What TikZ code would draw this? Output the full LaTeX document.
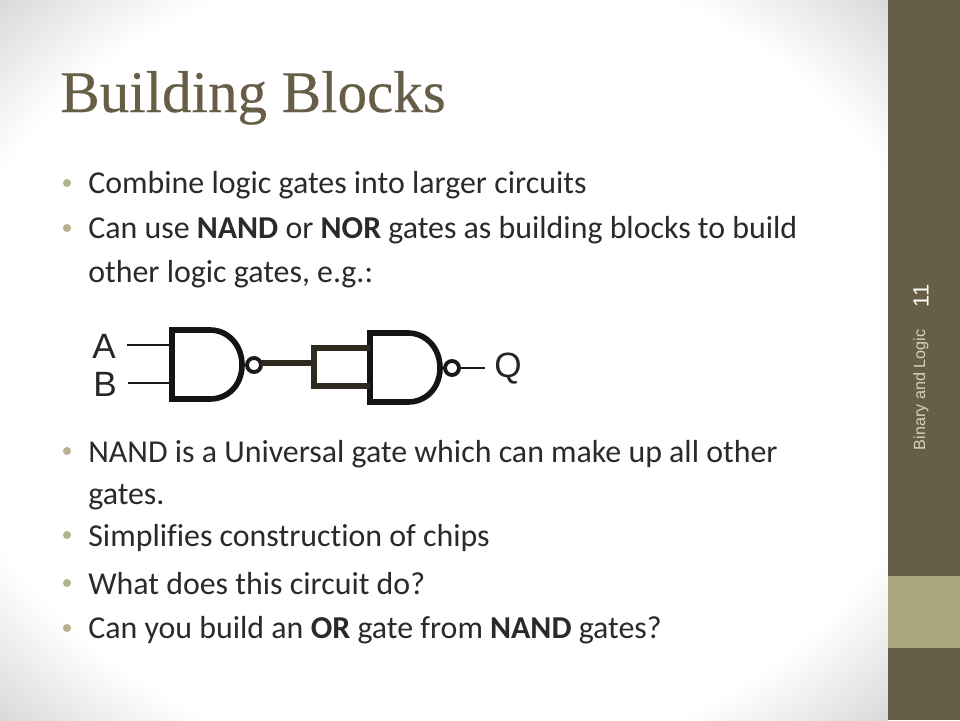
\documentclass[tikz,border=0pt]{standalone}
\usepackage{fontspec}
\setmainfont[Ligatures=CommonOff]{Carlito}
\newfontfamily\labelfont{Liberation Sans}
\newfontfamily\titlefont[FakeBold=0.3]{Liberation Serif}
\definecolor{bandbrown}{HTML}{675E47}
\definecolor{bandolive}{HTML}{A9A57C}
\definecolor{bodytext}{HTML}{2A2A2A}
\definecolor{wiredark}{HTML}{2E2A1F}
\pgfdeclareradialshading{slideglow}{\pgfpoint{0bp}{0bp}}{color(0bp)=(white); color(28bp)=(white); color(35.4bp)=(black!15); color(50bp)=(black!15)}

\begin{document}
\begin{tikzpicture}[x=0.02cm,y=-0.02cm,
    line/.style={anchor=base west,font=\fontsize{18.15pt}{20pt}\selectfont,text=bodytext,inner sep=0pt},
    bullet/.style={circle,fill=bandolive!85!white,inner sep=0pt,minimum size=4.6pt},
    bubble/.style={circle,draw=black!90,line width=2.2pt,inner sep=0pt,minimum size=0.28cm,outer sep=0pt},
    pin/.style={font=\labelfont\fontsize{20pt}{22pt}\selectfont,text=black!85,inner sep=0pt},
    wire/.style={draw=black!90,line width=1.7pt},
    busw/.style={draw=wiredark,line width=2.9pt},
    nandgate/.pic={
      \draw[draw=black!92,line width=3.2pt,line join=miter] (0,0) -- (38,0) .. controls (56,0) and (70,15) .. (70,35) .. controls (70,55) and (56,69) .. (38,69) -- (0,69) -- cycle;
      \node[bubble] (-out) at (82,35) {};
      \coordinate (-a) at (0,15);
      \coordinate (-b) at (0,53);
    }]
  \useasboundingbox (0,0) rectangle (960,720);
  \shade[shading=slideglow] (0,0) rectangle (888,720);
  \fill[bandbrown] (888,0) rectangle (960,720);
  \fill[bandolive] (888,576) rectangle (960,648);
  \node[anchor=base west,font=\titlefont\fontsize{33.6pt}{38pt}\selectfont,text=bandbrown,inner sep=0pt] (title) at (60,112) {Building Blocks};
  % bullet points
  \node[bullet] (b1) at (67,183) {};
  \node[line] (t1) at (88,193) {Combine logic gates into larger circuits};
  \node[bullet] (b2) at (67,228) {};
  \node[line] (t2) at (88,238) {Can use \textbf{NAND} or \textbf{NOR} gates as building blocks to build};
  \node[line] (t2b) at (88,282) {other logic gates, e.g.:};
  \node[bullet] (b3) at (67,451) {};
  \node[line] (t3) at (88,462) {NAND is a Universal gate which can make up all other};
  \node[line] (t3b) at (88,504) {gates.};
  \node[bullet] (b4) at (67,535) {};
  \node[line] (t4) at (88,546) {Simplifies construction of chips};
  \node[bullet] (b5) at (67,583) {};
  \node[line] (t5) at (88,594) {What does this circuit do?};
  \node[bullet] (b6) at (67,628) {};
  \node[line] (t6) at (88,638) {Can you build an \textbf{OR} gate from \textbf{NAND} gates?};
  % circuit
  \pic (g1) at (172,330) {nandgate};
  \pic (g2) at (370,333) {nandgate};
  \node[pin] (pa) at (104,346) {A};
  \node[pin] (pb) at (105,384) {B};
  \node[pin] (pq) at (508,369) {Q};
  \coordinate (join) at (314,363);
  \coordinate (joina) at (314,348);
  \coordinate (joinb) at (314,386);
  \draw[wire,shorten <=6] (pa.east |- g1-a) -- (g1-a);
  \draw[wire,shorten <=6] (pb.east |- g1-b) -- (g1-b);
  \draw[busw] (join -| g1-out.east) -- (join);
  \draw[busw] (g2-a) -- (joina) -- (joinb) -- (g2-b);
  \draw[wire,shorten >=5] (g2-out.east) -- (g2-out.east -| pq.west);
  % side band
  \node[rotate=90,font=\labelfont\fontsize{12.5pt}{14pt}\selectfont,text=white] (page) at (921,296) {11};
  \node[rotate=90,font=\labelfont\fontsize{9.2pt}{10pt}\selectfont,text=bandolive!50!white] (foot) at (921,390) {Binary and Logic};
\end{tikzpicture}
\end{document}
